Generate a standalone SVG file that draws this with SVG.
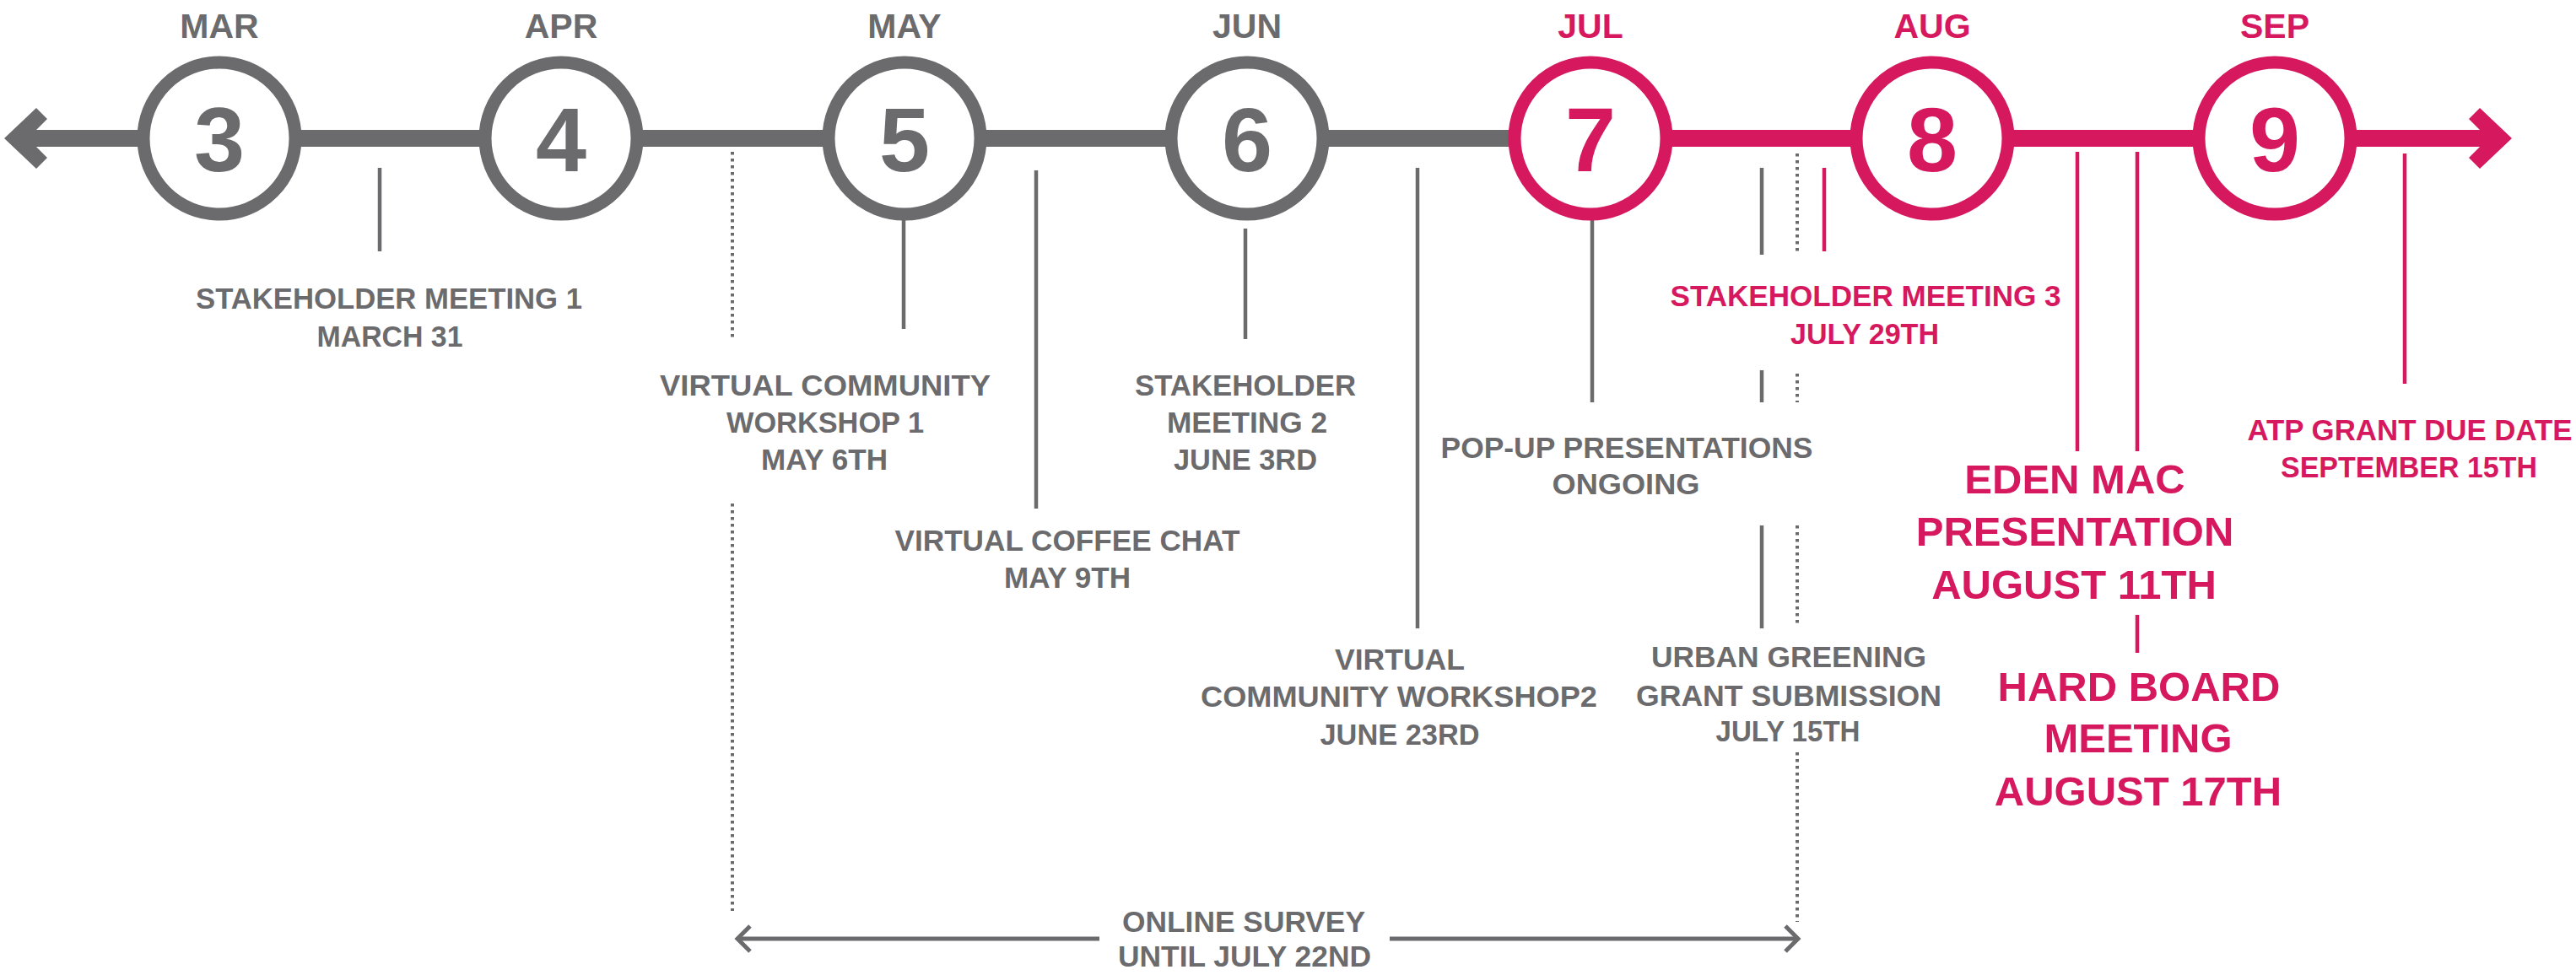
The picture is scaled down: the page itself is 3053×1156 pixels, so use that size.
<svg xmlns="http://www.w3.org/2000/svg" width="3053" height="1156" viewBox="0 0 3053 1156">
<style>
text{font-family:"Liberation Sans",Arial,Helvetica,sans-serif;font-weight:bold;text-anchor:middle}
.g{fill:#6b6b6e}
.p{fill:#d6195f}
.mon{font-size:41px}
.num{font-size:108px}
.lbl{font-size:35px}
.big{font-size:49px}
.ring{fill:#fff;stroke-width:15}
.rg{stroke:#6b6b6e}
.rp{stroke:#d6195f}
.tg{stroke:#6b6b6e;stroke-width:4.5;fill:none}
.tp{stroke:#d6195f;stroke-width:4.5;fill:none}
.dot{stroke:#6b6b6e;stroke-width:4;stroke-dasharray:3.5 4.5;fill:none}
</style>
<rect width="3053" height="1156" fill="#fff"/>
<g id="connectors">
  <rect x="40" y="154" width="1760" height="20" fill="#6b6b6e"/>
  <rect x="1970" y="154" width="970" height="20" fill="#d6195f"/>
  <polygon points="5,164 43,128 56,141 42,155 42,173 56,187 43,200" fill="#6b6b6e"/>
  <polygon points="2977,164 2939,128 2926,141 2940,155 2940,173 2926,187 2939,200" fill="#d6195f"/>
  <line class="tg" x1="450" y1="199" x2="450" y2="298"/>
  <line class="tg" x1="1071" y1="255" x2="1071" y2="390"/>
  <line class="tg" x1="1228" y1="202" x2="1228" y2="603"/>
  <line class="tg" x1="1476" y1="271" x2="1476" y2="402"/>
  <line class="tg" x1="1680" y1="199" x2="1680" y2="745"/>
  <line class="tg" x1="1887" y1="255" x2="1887" y2="477"/>
  <line class="tg" x1="2088" y1="199" x2="2088" y2="302"/>
  <line class="tg" x1="2088" y1="439" x2="2088" y2="477"/>
  <line class="tg" x1="2088" y1="623" x2="2088" y2="745"/>
  <line class="dot" x1="868" y1="180" x2="868" y2="400"/>
  <line class="dot" x1="868" y1="597" x2="868" y2="1080"/>
  <line class="dot" x1="2130" y1="182" x2="2130" y2="300"/>
  <line class="dot" x1="2130" y1="443" x2="2130" y2="477"/>
  <line class="dot" x1="2130" y1="623" x2="2130" y2="740"/>
  <line class="dot" x1="2130" y1="892" x2="2130" y2="1093"/>
  <line class="tp" x1="2162" y1="199" x2="2162" y2="298"/>
  <line class="tp" x1="2462" y1="180" x2="2462" y2="535"/>
  <line class="tp" x1="2533" y1="180" x2="2533" y2="535"/>
  <line class="tp" x1="2533" y1="729" x2="2533" y2="774"/>
  <line class="tp" x1="2850" y1="182" x2="2850" y2="455"/>
  <g id="survey-arrow" stroke="#6b6b6e" stroke-width="5" fill="none">
    <line x1="876" y1="1113" x2="1303" y2="1113"/>
    <line x1="1647" y1="1113" x2="2129" y2="1113"/>
    <polyline points="889,1098 874,1113 889,1128"/>
    <polyline points="2116,1098 2131,1113 2116,1128"/>
  </g>
</g>
<g id="month-3"><text class="mon g" x="260" y="45">MAR</text><circle class="ring rg" cx="260" cy="164" r="90"/><text class="num g" x="260" y="203">3</text></g>
<g id="month-4"><text class="mon g" x="665" y="45">APR</text><circle class="ring rg" cx="665" cy="164" r="90"/><text class="num g" x="665" y="203">4</text></g>
<g id="month-5"><text class="mon g" x="1072" y="45">MAY</text><circle class="ring rg" cx="1072" cy="164" r="90"/><text class="num g" x="1072" y="203">5</text></g>
<g id="month-6"><text class="mon g" x="1478" y="45">JUN</text><circle class="ring rg" cx="1478" cy="164" r="90"/><text class="num g" x="1478" y="203">6</text></g>
<g id="month-7"><text class="mon p" x="1885" y="45">JUL</text><circle class="ring rp" cx="1885" cy="164" r="90"/><text class="num p" x="1885" y="203">7</text></g>
<g id="month-8"><text class="mon p" x="2290" y="45">AUG</text><circle class="ring rp" cx="2290" cy="164" r="90"/><text class="num p" x="2290" y="203">8</text></g>
<g id="month-9"><text class="mon p" x="2696" y="45">SEP</text><circle class="ring rp" cx="2696" cy="164" r="90"/><text class="num p" x="2696" y="203">9</text></g>
<g id="stakeholder-1">
  <text class="lbl g" x="461" y="366" textLength="458" lengthAdjust="spacingAndGlyphs">STAKEHOLDER MEETING 1</text>
  <text class="lbl g" x="462" y="411" textLength="173" lengthAdjust="spacingAndGlyphs">MARCH 31</text>
</g>
<g id="workshop-1">
  <text class="lbl g" x="978" y="469" textLength="392" lengthAdjust="spacingAndGlyphs">VIRTUAL COMMUNITY</text>
  <text class="lbl g" x="978" y="513" textLength="234" lengthAdjust="spacingAndGlyphs">WORKSHOP 1</text>
  <text class="lbl g" x="977" y="557" textLength="150" lengthAdjust="spacingAndGlyphs">MAY 6TH</text>
</g>
<g id="stakeholder-2">
  <text class="lbl g" x="1476" y="469" textLength="262" lengthAdjust="spacingAndGlyphs">STAKEHOLDER</text>
  <text class="lbl g" x="1478" y="513" textLength="190" lengthAdjust="spacingAndGlyphs">MEETING 2</text>
  <text class="lbl g" x="1476" y="557" textLength="170" lengthAdjust="spacingAndGlyphs">JUNE 3RD</text>
</g>
<g id="coffee-chat">
  <text class="lbl g" x="1265" y="653" textLength="409" lengthAdjust="spacingAndGlyphs">VIRTUAL COFFEE CHAT</text>
  <text class="lbl g" x="1265" y="697" textLength="150" lengthAdjust="spacingAndGlyphs">MAY 9TH</text>
</g>
<g id="popup">
  <text class="lbl g" x="1928" y="543" textLength="441" lengthAdjust="spacingAndGlyphs">POP-UP PRESENTATIONS</text>
  <text class="lbl g" x="1927" y="586" textLength="175" lengthAdjust="spacingAndGlyphs">ONGOING</text>
</g>
<g id="workshop-2">
  <text class="lbl g" x="1659" y="794" textLength="154" lengthAdjust="spacingAndGlyphs">VIRTUAL</text>
  <text class="lbl g" x="1658" y="838" textLength="470" lengthAdjust="spacingAndGlyphs">COMMUNITY WORKSHOP2</text>
  <text class="lbl g" x="1659" y="883" textLength="189" lengthAdjust="spacingAndGlyphs">JUNE 23RD</text>
</g>
<g id="urban-greening">
  <text class="lbl g" x="2120" y="791" textLength="326" lengthAdjust="spacingAndGlyphs">URBAN GREENING</text>
  <text class="lbl g" x="2120" y="837" textLength="362" lengthAdjust="spacingAndGlyphs">GRANT SUBMISSION</text>
  <text class="lbl g" x="2119" y="879" textLength="171" lengthAdjust="spacingAndGlyphs">JULY 15TH</text>
</g>
<g id="online-survey">
  <text class="lbl g" x="1474" y="1105" textLength="288" lengthAdjust="spacingAndGlyphs">ONLINE SURVEY</text>
  <text class="lbl g" x="1475" y="1146" textLength="300" lengthAdjust="spacingAndGlyphs">UNTIL JULY 22ND</text>
</g>
<g id="stakeholder-3">
  <text class="lbl p" x="2211" y="363" textLength="463" lengthAdjust="spacingAndGlyphs">STAKEHOLDER MEETING 3</text>
  <text class="lbl p" x="2210" y="408" textLength="176" lengthAdjust="spacingAndGlyphs">JULY 29TH</text>
</g>
<g id="atp-grant">
  <text class="lbl p" x="2856" y="522" textLength="385" lengthAdjust="spacingAndGlyphs">ATP GRANT DUE DATE</text>
  <text class="lbl p" x="2855" y="566" textLength="304" lengthAdjust="spacingAndGlyphs">SEPTEMBER 15TH</text>
</g>
<g id="eden-mac">
  <text class="big p" x="2459" y="585">EDEN MAC</text>
  <text class="big p" x="2459" y="647">PRESENTATION</text>
  <text class="big p" x="2458" y="710">AUGUST 11TH</text>
</g>
<g id="hard-board">
  <text class="big p" x="2535" y="831">HARD BOARD</text>
  <text class="big p" x="2534" y="892">MEETING</text>
  <text class="big p" x="2534" y="955">AUGUST 17TH</text>
</g>
</svg>
